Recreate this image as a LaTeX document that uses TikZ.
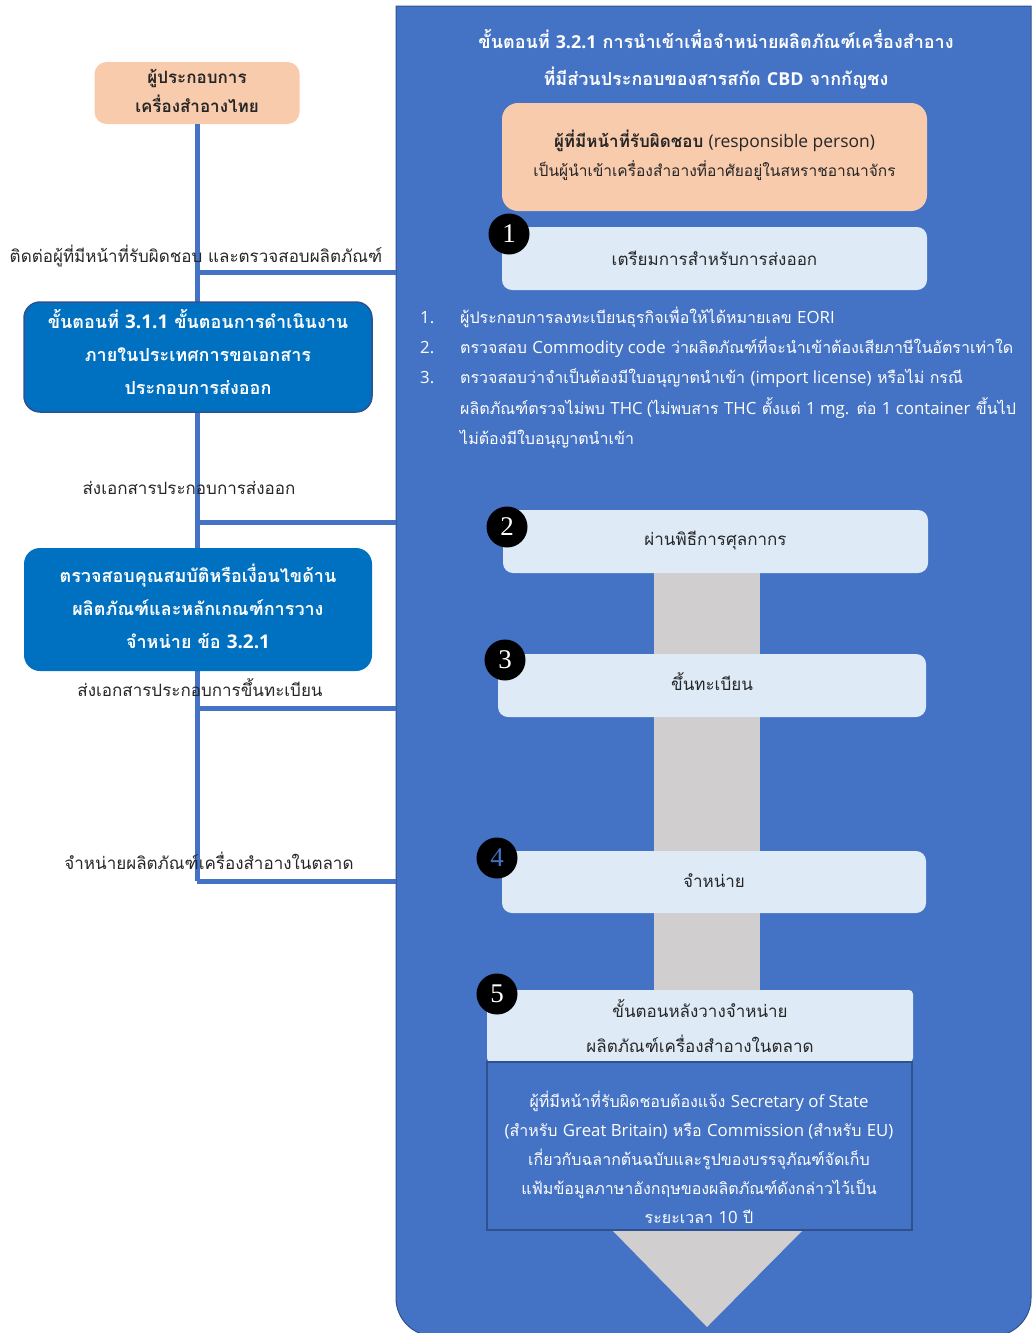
\documentclass[tikz,border=0pt]{standalone}
\usepackage{fontspec}
\setmainfont[Script=Thai]{Loma}
\newfontfamily\lat[Scale=1.05]{Open Sans}
\newfontfamily\digitfont{Liberation Serif}

\definecolor{panelblue}{HTML}{4472C4}
\definecolor{paneledge}{HTML}{2F528F}
\definecolor{deepblue}{HTML}{0070C0}
\definecolor{peach}{HTML}{F8CBAD}
\definecolor{paleblue}{HTML}{DEEBF7}
\definecolor{arrowgray}{HTML}{D0CECE}
\definecolor{ink}{HTML}{262626}

\tikzset{
  link/.style={draw=panelblue, line width=5pt},
  peachbox/.style={fill=peach, rounded corners=12pt, inner sep=0pt},
  deepbox/.style={fill=deepblue, rounded corners=16pt, inner sep=0pt},
  deeptext/.style={align=center, text=white, inner sep=0pt, font=\bfseries\fontsize{18}{33}\selectfont},
  stepbox/.style={fill=paleblue, rounded corners=10pt, inner sep=0pt},
  steptext/.style={align=center, text=ink, inner sep=0pt, font=\fontsize{17}{35}\selectfont},
  badge/.style={circle, fill=black, minimum size=41pt, inner sep=0pt, text=white,
    font=\digitfont\fontsize{27}{27}\selectfont},
  flowlabel/.style={text=ink, font=\fontsize{17}{20}\selectfont, inner sep=0pt},
  listline/.style={text=white, font=\fontsize{16}{20}\selectfont, inner sep=0pt, anchor=base west},
}

\begin{document}
\begin{tikzpicture}[x=1pt,y=-1pt]
\useasboundingbox (0,0) rectangle (1033,1333);

% right-hand panel: square top, rounded bottom
\fill[panelblue, draw=paneledge, line width=1pt]
  (396,6) -- (1031,6) -- (1031,1200) [rounded corners=38pt] -- (1031,1336) -- (396,1336)
  -- (396,1200) [sharp corners] -- cycle;

% panel edge points reached by the connectors
\coordinate (e1) at (396,272);
\coordinate (e2) at (396,522);
\coordinate (e3) at (396,708);
\coordinate (e4) at (396,881);
\coordinate (t1) at (197,272);
\coordinate (t2) at (197,522);
\coordinate (t3) at (197,708);
\coordinate (t4) at (197,881);

% left column
\node[peachbox, minimum width=205pt, minimum height=62pt] (thai) at (197,93) {};
\node[align=center, text=ink, inner sep=0pt, font=\bfseries\fontsize{17}{29}\selectfont] (thaitext) at (197,91)
  {ผู้ประกอบการ\\เครื่องสำอางไทย};

\draw[link] (thai.south) -- (t4);
\draw[link] (t1) -- (e1);
\draw[link] (t2) -- (e2);
\draw[link] (t3) -- (e3);
\draw[link] (t4) -- (e4);

\node[deepbox, draw=paneledge, line width=1.5pt, minimum width=348pt, minimum height=110pt] (domestic) at (198,357) {};
\node[deeptext] (domestictext) at (198,352)
  {ขั้นตอนที่ {\lat 3.1.1} ขั้นตอนการดำเนินงาน\\ภายในประเทศการขอเอกสาร\\ประกอบการส่งออก};
\node[deepbox, minimum width=348pt, minimum height=123pt] (qualify) at (198,609.5) {};
\node[deeptext] (qualifytext) at (198,606)
  {ตรวจสอบคุณสมบัติหรือเงื่อนไขด้าน\\ผลิตภัณฑ์และหลักเกณฑ์การวาง\\จำหน่าย ข้อ {\lat 3.2.1}};

\node[flowlabel] (l1) at (196,256) {ติดต่อผู้ที่มีหน้าที่รับผิดชอบ และตรวจสอบผลิตภัณฑ์};
\node[flowlabel] (l2) at (189,488) {ส่งเอกสารประกอบการส่งออก};
\node[flowlabel] (l3) at (200,688) {ส่งเอกสารประกอบการขึ้นทะเบียน};
\node[flowlabel] (l4) at (209,861) {จำหน่ายผลิตภัณฑ์เครื่องสำอางในตลาด};

% panel title
\node[text=white, align=center, inner sep=0pt, font=\bfseries\fontsize{18}{37}\selectfont] (title) at (716,59)
  {ขั้นตอนที่ {\lat\fontsize{17}{37}\selectfont 3.2.1} การนำเข้าเพื่อจำหน่ายผลิตภัณฑ์เครื่องสำอาง\\ที่มีส่วนประกอบของสารสกัด {\lat\fontsize{17}{37}\selectfont CBD} จากกัญชง};

\node[peachbox, rounded corners=16pt, minimum width=425pt, minimum height=108pt] (resp) at (714.5,157) {};
\node[align=center, text=ink, inner sep=0pt, font=\fontsize{15.5}{29}\selectfont] (resptext) at (714.5,155)
  {{\fontsize{17}{29}\selectfont\bfseries ผู้ที่มีหน้าที่รับผิดชอบ} {\lat\fontsize{16.6}{29}\selectfont (responsible person)}\\เป็นผู้นำเข้าเครื่องสำอางที่อาศัยอยู่ในสหราชอาณาจักร};

% arrow body running behind the later steps
\fill[arrowgray] (654,573) rectangle (760,1232);
\fill[arrowgray] (612,1230) -- (803,1230) -- (707,1327) -- cycle;

\node[stepbox, minimum width=425pt, minimum height=63pt] (s1) at (714.5,258.5) {};
\node[steptext] (s1text) at (714.5,258) {เตรียมการสำหรับการส่งออก};
\node[stepbox, minimum width=425pt, minimum height=63pt] (s2) at (715.5,541.5) {};
\node[steptext] (s2text) at (715.5,541) {ผ่านพิธีการศุลกากร};
\node[stepbox, minimum width=428pt, minimum height=63pt] (s3) at (712,685.5) {};
\node[steptext] (s3text) at (712,682) {ขึ้นทะเบียน};
\node[stepbox, minimum width=424pt, minimum height=62pt] (s4) at (714,882) {};
\node[steptext] (s4text) at (714,881) {จำหน่าย};
\node[stepbox, rounded corners=4pt, minimum width=426pt, minimum height=72pt] (s5) at (700,1026) {};
\node[steptext] (s5text) at (700,1026) {ขั้นตอนหลังวางจำหน่าย\\ผลิตภัณฑ์เครื่องสำอางในตลาด};

\node[fill=panelblue, draw=paneledge, line width=1.8pt, minimum width=425pt, minimum height=168pt,
  inner sep=0pt] (notice) at (699.5,1146) {};
\node[text=white, align=center, inner sep=0pt, font=\fontsize{16}{29}\selectfont] (noticetext) at (699,1157)
  {ผู้ที่มีหน้าที่รับผิดชอบต้องแจ้ง {\lat Secretary of State}\\{\lat (}สำหรับ {\lat Great Britain)} หรือ {\lat Commission (}สำหรับ {\lat EU)}\\เกี่ยวกับฉลากต้นฉบับและรูปของบรรจุภัณฑ์จัดเก็บ\\แฟ้มข้อมูลภาษาอังกฤษของผลิตภัณฑ์ดังกล่าวไว้เป็น\\ระยะเวลา {\lat 10} ปี};

% step badges
\node[badge] (b1) at (509,234) {1};
\node[badge] (b2) at (507,527) {2};
\node[badge] (b3) at (505,660) {3};
\node[badge, text=panelblue] (b4) at (497,858) {4};
\node[badge] (b5) at (497,994) {5};

% checklist under step 1
\node[listline] (n1) at (420,323) {\lat 1.};
\node[listline] (n2) at (420,353) {\lat 2.};
\node[listline] (n3) at (420,383) {\lat 3.};
\node[listline] (i1) at (460,323) {ผู้ประกอบการลงทะเบียนธุรกิจเพื่อให้ได้หมายเลข {\lat EORI}};
\node[listline] (i2) at (460,353) {ตรวจสอบ {\lat Commodity code} ว่าผลิตภัณฑ์ที่จะนำเข้าต้องเสียภาษีในอัตราเท่าใด};
\node[listline] (i3) at (460,383) {ตรวจสอบว่าจำเป็นต้องมีใบอนุญาตนำเข้า {\lat (import license)} หรือไม่ กรณี};
\node[listline] (i4) at (460,414) {ผลิตภัณฑ์ตรวจไม่พบ {\lat THC (}ไม่พบสาร {\lat THC} ตั้งแต่ {\lat 1 mg.} ต่อ {\lat 1 container} ขึ้นไป};
\node[listline] (i5) at (460,444) {ไม่ต้องมีใบอนุญาตนำเข้า};
\end{tikzpicture}
\end{document}
